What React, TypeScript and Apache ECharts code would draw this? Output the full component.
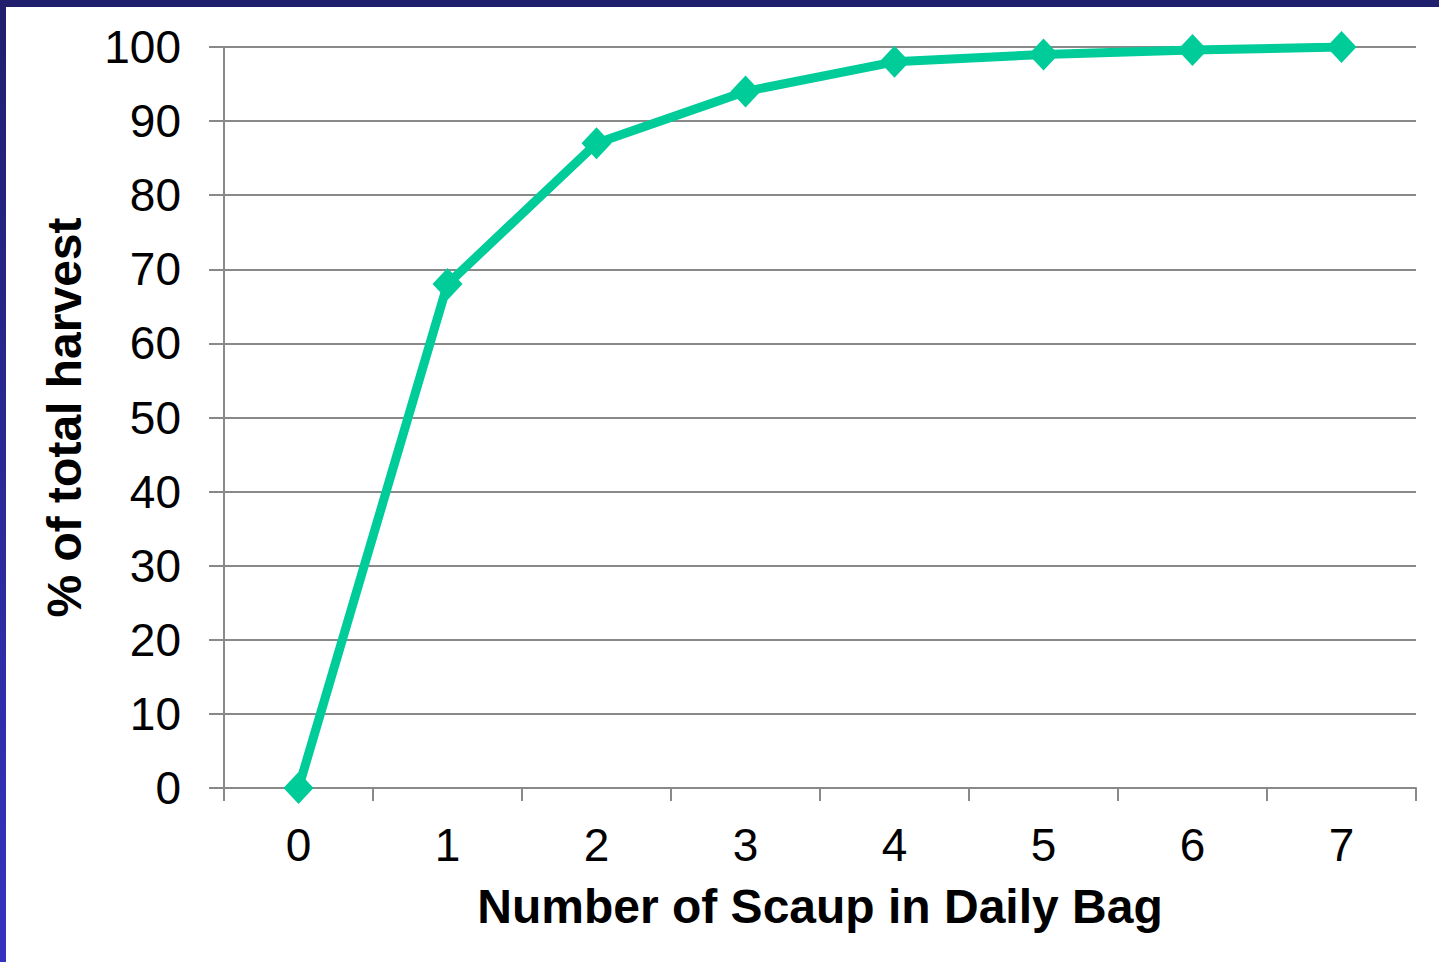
import React, { useEffect, useRef } from "react";
import * as echarts from "echarts";

const categories = ["0", "1", "2", "3", "4", "5", "6", "7"];
const cumulativeHarvest = [0, 68, 87, 94, 98, 99, 99.6, 100];
const xAxisTitle = "Number of Scaup in Daily Bag";
const yAxisTitle = "% of total harvest";

export default function App() {
  const ref = useRef<HTMLDivElement>(null);

  useEffect(() => {
    if (!ref.current) return;
    const chart = echarts.init(ref.current, null, { renderer: "svg" });
    const font = "Arial, 'Liberation Sans', sans-serif";
    const gray = "#898989";
    chart.setOption({
      animation: false,
      grid: { left: 224, right: 23, top: 47, bottom: 174 },
      xAxis: {
        type: "category",
        data: categories,
        boundaryGap: true,
        axisLine: { show: true, lineStyle: { color: gray, width: 2 } },
        axisTick: { show: true, length: 13, lineStyle: { color: gray, width: 2 } },
        axisLabel: { fontSize: 46, color: "#000", fontFamily: font, margin: 34 },
        splitLine: { show: false },
        name: xAxisTitle,
        nameLocation: "middle",
        nameGap: 94,
        nameTextStyle: { fontSize: 48, fontWeight: "bold", color: "#000", fontFamily: font },
      },
      yAxis: {
        type: "value",
        min: 0,
        max: 100,
        interval: 10,
        axisLine: { show: true, lineStyle: { color: gray, width: 2 } },
        axisTick: { show: true, length: 15, lineStyle: { color: gray, width: 2 } },
        axisLabel: { fontSize: 46, color: "#000", fontFamily: font, margin: 43 },
        splitLine: { show: true, lineStyle: { color: gray, width: 2 } },
        name: yAxisTitle,
        nameLocation: "middle",
        nameGap: 136,
        nameTextStyle: { fontSize: 48, fontWeight: "bold", color: "#000", fontFamily: font },
      },
      series: [
        {
          type: "line",
          data: cumulativeHarvest,
          symbol: "diamond",
          symbolSize: [30, 32],
          lineStyle: { color: "#00CC99", width: 9 },
          itemStyle: { color: "#00CC99" },
        },
      ],
    });
    return () => chart.dispose();
  }, []);

  return (
    <div style={{ position: "absolute", left: 0, top: 0, width: 1439, height: 962, background: "#fff", overflow: "hidden" }}>
      <div
        style={{
          position: "absolute",
          left: 0,
          top: 0,
          width: 6,
          height: 962,
          background: "linear-gradient(to bottom, #1f1f6e, #3333c0)",
        }}
      />
      <div style={{ position: "absolute", left: 0, top: 0, width: 1439, height: 7, background: "#1f1f6e" }} />
      <div ref={ref} style={{ position: "absolute", left: 0, top: 0, width: 1439, height: 962 }} />
    </div>
  );
}
